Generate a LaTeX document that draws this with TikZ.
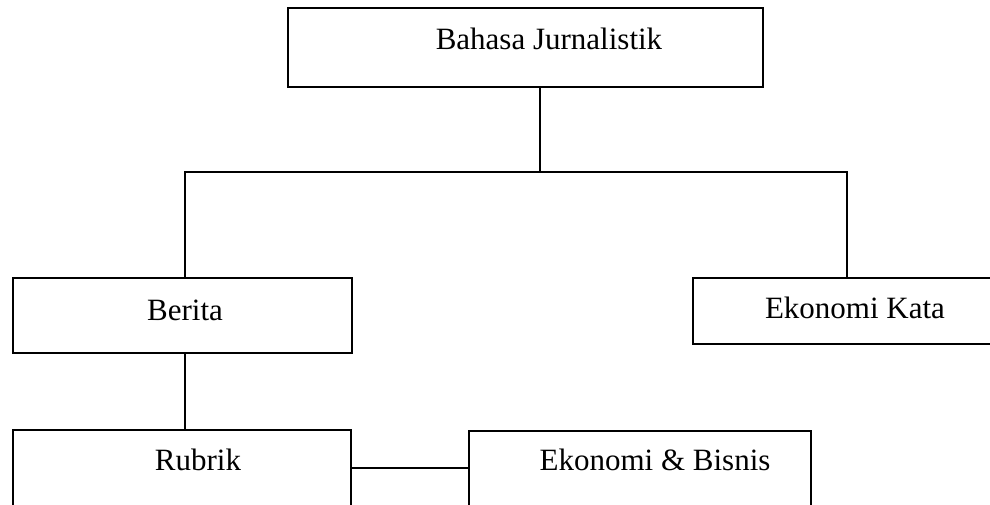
\documentclass[tikz,border=0pt]{standalone}
\usepackage{fontspec}
\setmainfont{Liberation Serif}
\begin{document}
\begin{tikzpicture}[x=1pt,y=-1pt,
  box/.style={draw, line width=1.4pt, rectangle, inner sep=0pt},
  lbl/.style={font=\fontsize{31}{36}\selectfont, anchor=base, inner sep=0pt},
  conn/.style={line width=1.4pt}]
\useasboundingbox (0,0) rectangle (990,504);
\clip (0,0) rectangle (990,504);
% boxes
\node[box, minimum width=475pt, minimum height=79pt] (bj) at (525.5,47.5) {};
\node[box, minimum width=339pt, minimum height=75pt] (ber) at (182.5,315.5) {};
\node[box, minimum width=320pt, minimum height=66pt] (ek) at (853,311) {};
\node[box, minimum width=338pt, minimum height=110pt] (rb) at (182,485) {};
\node[box, minimum width=342pt, minimum height=110pt] (eb) at (640,486) {};
% labels
\node[lbl] (tbj) at (549,49) {Bahasa Jurnalistik};
\node[lbl] (tber) at (185,320) {Berita};
\node[lbl] (tek) at (855,318) {Ekonomi Kata};
\node[lbl] (trb) at (198,470) {Rubrik};
\node[lbl] (teb) at (655,470) {Ekonomi \& Bisnis};
% connectors
\coordinate (jn) at (540,172);
\coordinate (jl) at (185,172);
\coordinate (jr) at (847,172);
\draw[conn] (jn |- bj.south) -- (jn);
\draw[conn] (jl |- ber.north) -- (jl) -- (jr) -- (jr |- ek.north);
\draw[conn] (jl |- ber.south) -- (jl |- rb.north);
\coordinate (hr) at (0,468);
\draw[conn] (rb.east |- hr) -- (eb.west |- hr);
\end{tikzpicture}
\end{document}
